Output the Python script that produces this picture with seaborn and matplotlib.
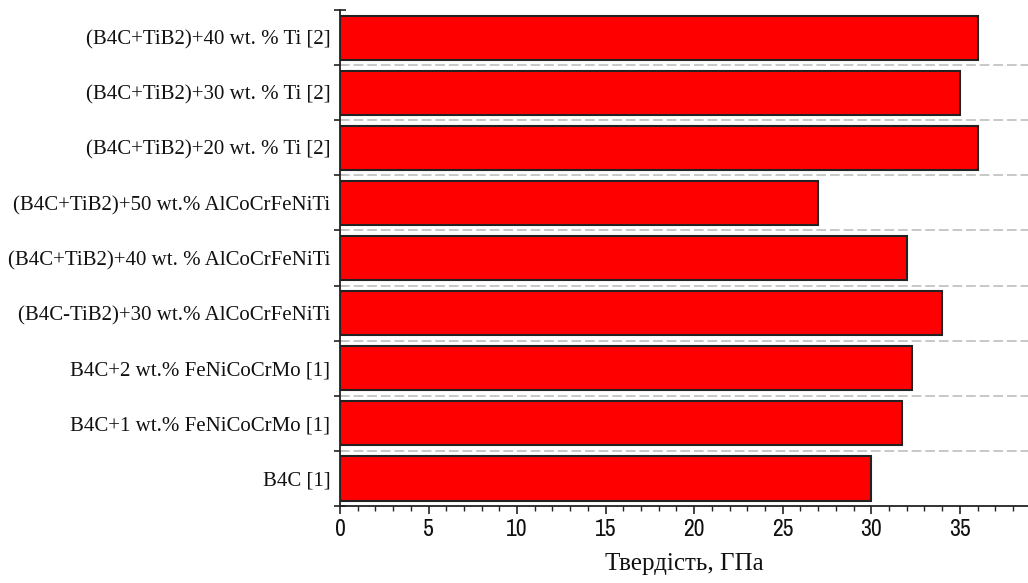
import matplotlib
matplotlib.use("Agg")
import matplotlib.pyplot as plt
import matplotlib.font_manager as fm
from matplotlib.ticker import MultipleLocator, FixedLocator
import seaborn as sns
import pandas as pd

materials = [
    "(B4C+TiB2)+40 wt. % Ti [2]",
    "(B4C+TiB2)+30 wt. % Ti [2]",
    "(B4C+TiB2)+20 wt. % Ti [2]",
    "(B4C+TiB2)+50 wt.% AlCoCrFeNiTi",
    "(B4C+TiB2)+40 wt. % AlCoCrFeNiTi",
    "(B4C-TiB2)+30 wt.% AlCoCrFeNiTi",
    "B4C+2 wt.% FeNiCoCrMo [1]",
    "B4C+1 wt.% FeNiCoCrMo [1]",
    "B4C [1]",
]
hardness = [36.0, 35.0, 36.0, 27.0, 32.0, 34.0, 32.3, 31.75, 30.0]
x_ticks = [0, 5, 10, 15, 20, 25, 30, 35]

df = pd.DataFrame({"material": materials, "hardness": hardness})

sns.set_theme(style="white")
plt.rcParams["font.family"] = ["Liberation Serif", "DejaVu Serif"]

# pick a narrow sans face for the numeric tick labels if one is available
narrow_prop = None
for f in fm.fontManager.ttflist:
    if "Narrow" in f.name or (f.name.startswith("DejaVu Sans") and "ondensed" in f.fname
                              and "Bold" not in f.fname and "Oblique" not in f.fname):
        narrow_prop = fm.FontProperties(fname=f.fname, size=17)
        if "Narrow" in f.name and "Bold" not in f.fname and "Italic" not in f.fname:
            break
if narrow_prop is None:
    narrow_prop = fm.FontProperties(family="Liberation Sans", size=15)

fig = plt.figure(figsize=(10.28, 5.83), dpi=100)
ax = fig.add_axes([0.3307, 0.132, 0.6693, 0.8508])

sns.barplot(data=df, y="material", x="hardness", orient="h", order=materials,
            color="#ff0000", saturation=1, width=0.8,
            edgecolor="#222222", linewidth=1.5, ax=ax, zorder=3)

n = len(materials)
ax.set_xlim(0, 38.85)
ax.set_ylim(n - 0.5, -0.5)

# category boundaries: dashed guide lines and crossing tick marks
ax.yaxis.set_minor_locator(FixedLocator([k - 0.5 for k in range(n + 1)]))
ax.grid(False)
for k in range(1, n):
    ax.axhline(k - 0.5, color="#c8c8c8", linestyle=(0, (5, 2)), linewidth=1.4, zorder=1)
ax.tick_params(axis="y", which="major", length=0, pad=7, labelsize=15, labelcolor="#111111")
ax.tick_params(axis="y", which="minor", direction="inout", length=8, width=1.2, color="#222222", left=True)

ax.xaxis.set_major_locator(FixedLocator(x_ticks))
ax.xaxis.set_minor_locator(MultipleLocator(1))
ax.tick_params(axis="x", which="major", direction="out", length=6, width=1.2, color="#222222",
               bottom=True, pad=3)
ax.tick_params(axis="x", which="minor", direction="out", length=3.5, width=1.0, color="#222222", bottom=True)
for lbl in ax.get_xticklabels():
    lbl.set_fontproperties(narrow_prop)
    lbl.set_color("#111111")

ax.set_ylabel("")
ax.set_xlabel("Твердість, ГПа", fontsize=18, labelpad=10, color="#111111")

for side in ("top", "right"):
    ax.spines[side].set_visible(False)
for side in ("left", "bottom"):
    ax.spines[side].set_color("#222222")
    ax.spines[side].set_linewidth(1.3)

fig.savefig("out.png", dpi=100, facecolor="white")
